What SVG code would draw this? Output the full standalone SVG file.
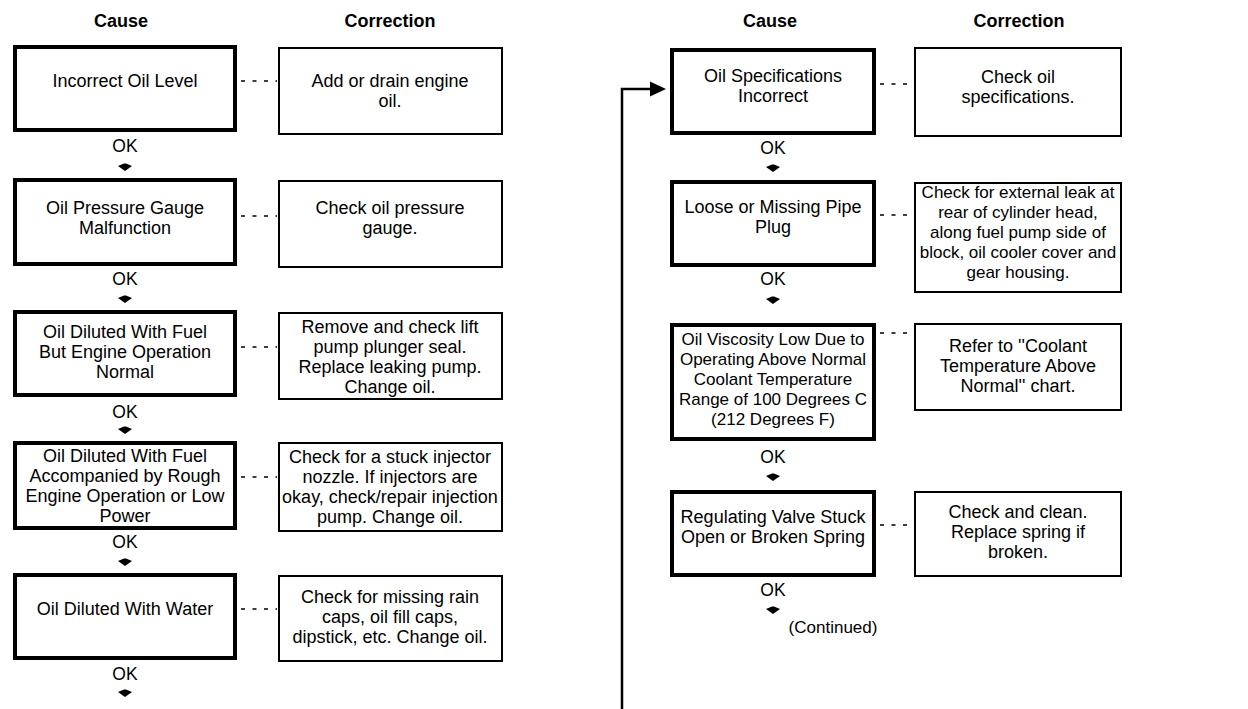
<svg xmlns="http://www.w3.org/2000/svg" width="1248" height="709" viewBox="0 0 1248 709">
<defs>
<style>
text{font-family:"Liberation Sans",Arial,Helvetica,sans-serif;fill:#000;}
.hd{font-size:18px;font-weight:bold;text-anchor:middle;}
.t{font-size:18px;text-anchor:middle;}
.s{font-size:17px;}
.ok{font-size:17.5px;text-anchor:middle;}
.cause{fill:#fff;stroke:#000;stroke-width:4;}
.corr{fill:#fff;stroke:#000;stroke-width:2;}
.dash{stroke:#000;stroke-width:1.6;stroke-dasharray:4 7.5;fill:none;}
.flow{stroke:#000;stroke-width:2.5;fill:none;}
</style>
<path id="dn" d="M-7,-1 L-1,-3.5 L1,-3.5 L7,-1 L0,4 Z" fill="#000"/>
</defs>
<rect width="1248" height="709" fill="#fff"/>

<g id="headers">
<text class="hd" x="121" y="27">Cause</text>
<text class="hd" x="390" y="27">Correction</text>
<text class="hd" x="770" y="27">Cause</text>
<text class="hd" x="1019" y="27">Correction</text>
</g>

<g id="connectors">
<line class="dash" x1="241" y1="81" x2="277" y2="81"/>
<line class="dash" x1="241" y1="216" x2="277" y2="216"/>
<line class="dash" x1="241" y1="347" x2="277" y2="347"/>
<line class="dash" x1="241" y1="477" x2="277" y2="477"/>
<line class="dash" x1="241" y1="609" x2="277" y2="609"/>
<line class="dash" x1="880" y1="84" x2="913" y2="84"/>
<line class="dash" x1="880" y1="215" x2="913" y2="215"/>
<line class="dash" x1="880" y1="333" x2="913" y2="333"/>
<line class="dash" x1="880" y1="525" x2="913" y2="525"/>
<text class="ok" x="125" y="152">OK</text>
<use href="#dn" x="125" y="167"/>
<text class="ok" x="125" y="285">OK</text>
<use href="#dn" x="125" y="299"/>
<text class="ok" x="125" y="418">OK</text>
<use href="#dn" x="125" y="430"/>
<text class="ok" x="125" y="548">OK</text>
<use href="#dn" x="125" y="562"/>
<text class="ok" x="125" y="680">OK</text>
<use href="#dn" x="125" y="693"/>
<text class="ok" x="773" y="154">OK</text>
<use href="#dn" x="773" y="168"/>
<text class="ok" x="773" y="285">OK</text>
<use href="#dn" x="773" y="300"/>
<text class="ok" x="773" y="463">OK</text>
<use href="#dn" x="773" y="477"/>
<text class="ok" x="773" y="596">OK</text>
<use href="#dn" x="773" y="610"/>
<text class="ok" x="833" y="633" style="font-size:17px">(Continued)</text>
<path class="flow" d="M622,709 L622,89 L652,89"/>
<polygon points="650,81.5 666,89 650,96.5" fill="#000"/>
</g>

<g id="n1">
<rect class="cause" x="15" y="47" width="220" height="83"/>
<text class="t" x="125" y="87">Incorrect Oil Level</text>
</g>
<g id="c1">
<rect class="corr" x="279" y="48" width="223" height="86"/>
<text class="t" x="390" y="87">Add or drain engine</text>
<text class="t" x="390" y="107">oil.</text>
</g>

<g id="n2">
<rect class="cause" x="15" y="180" width="220" height="84"/>
<text class="t" x="125" y="214">Oil Pressure Gauge</text>
<text class="t" x="125" y="234">Malfunction</text>
</g>
<g id="c2">
<rect class="corr" x="279" y="181" width="223" height="86"/>
<text class="t" x="390" y="214">Check oil pressure</text>
<text class="t" x="390" y="234">gauge.</text>
</g>

<g id="n3">
<rect class="cause" x="15" y="312" width="220" height="83"/>
<text class="t" x="125" y="338">Oil Diluted With Fuel</text>
<text class="t" x="125" y="358">But Engine Operation</text>
<text class="t" x="125" y="378">Normal</text>
</g>
<g id="c3">
<rect class="corr" x="279" y="313" width="223" height="86"/>
<text class="t" x="390" y="333">Remove and check lift</text>
<text class="t" x="390" y="353">pump plunger seal.</text>
<text class="t" x="390" y="373">Replace leaking pump.</text>
<text class="t" x="390" y="393">Change oil.</text>
</g>

<g id="n4">
<rect class="cause" x="15" y="443" width="220" height="85"/>
<text class="t" x="125" y="462">Oil Diluted With Fuel</text>
<text class="t" x="125" y="482">Accompanied by Rough</text>
<text class="t" x="125" y="502">Engine Operation or Low</text>
<text class="t" x="125" y="522">Power</text>
</g>
<g id="c4">
<rect class="corr" x="279" y="443" width="223" height="88"/>
<text class="t" x="390" y="463">Check for a stuck injector</text>
<text class="t" x="390" y="483">nozzle. If injectors are</text>
<text class="t" x="390" y="503">okay, check/repair injection</text>
<text class="t" x="390" y="523">pump. Change oil.</text>
</g>

<g id="n5">
<rect class="cause" x="15" y="575" width="220" height="83"/>
<text class="t" x="125" y="615">Oil Diluted With Water</text>
</g>
<g id="c5">
<rect class="corr" x="279" y="576" width="223" height="85"/>
<text class="t" x="390" y="603">Check for missing rain</text>
<text class="t" x="390" y="623">caps, oil fill caps,</text>
<text class="t" x="390" y="643">dipstick, etc. Change oil.</text>
</g>

<g id="n6">
<rect class="cause" x="672" y="50" width="202" height="83"/>
<text class="t" x="773" y="82">Oil Specifications</text>
<text class="t" x="773" y="102">Incorrect</text>
</g>
<g id="c6">
<rect class="corr" x="915" y="48" width="206" height="88"/>
<text class="t" x="1018" y="83">Check oil</text>
<text class="t" x="1018" y="103">specifications.</text>
</g>

<g id="n7">
<rect class="cause" x="672" y="182" width="202" height="83"/>
<text class="t" x="773" y="213">Loose or Missing Pipe</text>
<text class="t" x="773" y="233">Plug</text>
</g>
<g id="c7">
<rect class="corr" x="915" y="183" width="206" height="109"/>
<text class="t s" x="1018" y="198">Check for external leak at</text>
<text class="t s" x="1018" y="218">rear of cylinder head,</text>
<text class="t s" x="1018" y="238">along fuel pump side of</text>
<text class="t s" x="1018" y="258">block, oil cooler cover and</text>
<text class="t s" x="1018" y="278">gear housing.</text>
</g>

<g id="n8">
<rect class="cause" x="672" y="325" width="202" height="114"/>
<text class="t s" x="773" y="345">Oil Viscosity Low Due to</text>
<text class="t s" x="773" y="365">Operating Above Normal</text>
<text class="t s" x="773" y="385">Coolant Temperature</text>
<text class="t s" x="773" y="405">Range of 100 Degrees C</text>
<text class="t s" x="773" y="425">(212 Degrees F)</text>
</g>
<g id="c8">
<rect class="corr" x="915" y="324" width="206" height="86"/>
<text class="t" x="1018" y="352">Refer to ''Coolant</text>
<text class="t" x="1018" y="372">Temperature Above</text>
<text class="t" x="1018" y="392">Normal'' chart.</text>
</g>

<g id="n9">
<rect class="cause" x="672" y="492" width="202" height="83"/>
<text class="t" x="773" y="523">Regulating Valve Stuck</text>
<text class="t" x="773" y="543">Open or Broken Spring</text>
</g>
<g id="c9">
<rect class="corr" x="915" y="492" width="206" height="84"/>
<text class="t" x="1018" y="518">Check and clean.</text>
<text class="t" x="1018" y="538">Replace spring if</text>
<text class="t" x="1018" y="558">broken.</text>
</g>
</svg>
